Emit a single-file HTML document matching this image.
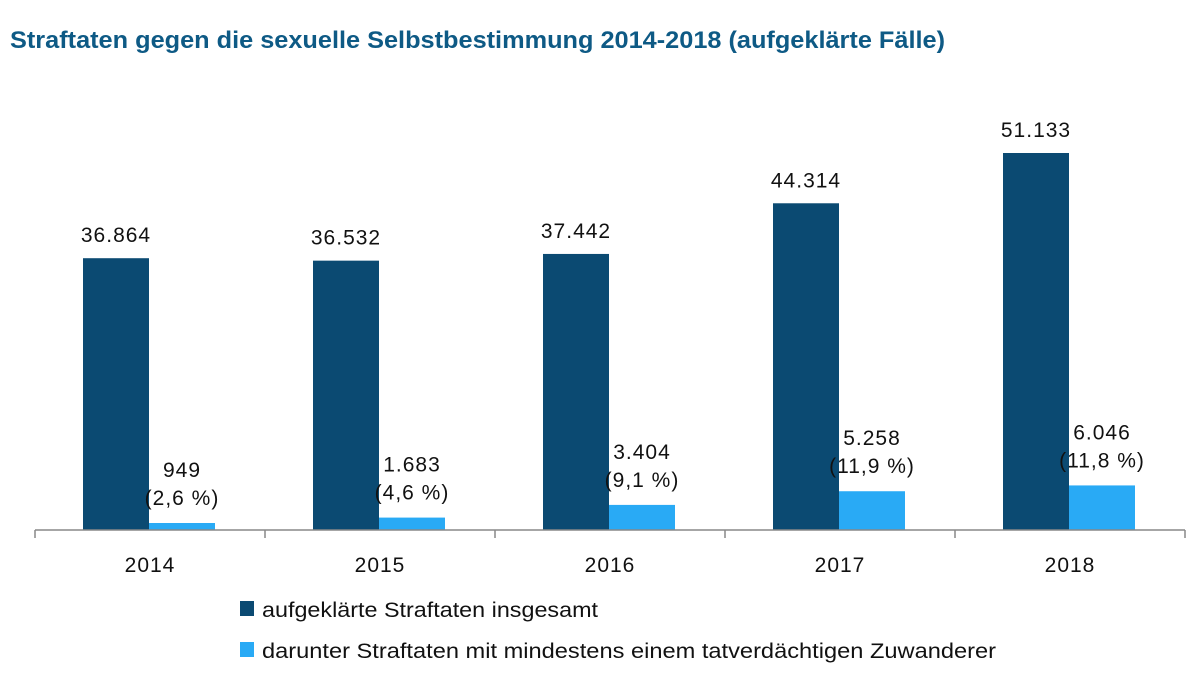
<!DOCTYPE html>
<html><head><meta charset="utf-8"><style>
body{margin:0;background:#fff;width:1200px;height:691px;overflow:hidden;font-family:"Liberation Sans",sans-serif}
</style></head><body>
<svg width="1200" height="691">
<text x="10" y="48" font-size="24" font-weight="bold" fill="#0e5a85" textLength="935" lengthAdjust="spacingAndGlyphs">Straftaten gegen die sexuelle Selbstbestimmung 2014-2018 (aufgeklärte Fälle)</text>
<g id="plot"></g>
<g>
<rect x="240" y="601" width="14" height="15" fill="#0b4a72"/>
<text x="262" y="617" font-size="21" fill="#111" textLength="336" lengthAdjust="spacingAndGlyphs">aufgeklärte Straftaten insgesamt</text>
<rect x="240" y="642" width="14" height="15" fill="#29aaf5"/>
<text x="262" y="658" font-size="21" fill="#111" textLength="734" lengthAdjust="spacingAndGlyphs">darunter Straftaten mit mindestens einem tatverdächtigen Zuwanderer</text>
</g>
</svg>
<script>
const years=["2014","2015","2016","2017","2018"];
const totals=[36864,36532,37442,44314,51133];
const immigrant=[949,1683,3404,5258,6046];
const totalLabels=["36.864","36.532","37.442","44.314","51.133"];
const immLabels=["949","1.683","3.404","5.258","6.046"];
const pctLabels=["(2,6 %)","(4,6 %)","(9,1 %)","(11,9 %)","(11,8 %)"];
const NS="http://www.w3.org/2000/svg";
const g=document.getElementById('plot');
const base=530, k=377/51133, x0=35, step=230;
const y=v=>base-v*k;
function el(t,a,txt){const e=document.createElementNS(NS,t);for(const n in a)e.setAttribute(n,a[n]);if(txt!=null)e.textContent=txt;g.appendChild(e);return e;}
const ts={'font-size':21,'text-anchor':'middle',fill:'#111','letter-spacing':'1'};
years.forEach((yr,i)=>{
  const gx=x0+i*step, bx=gx+48;
  const b1=el('rect',{x:bx,y:y(totals[i]),width:66,height:base-y(totals[i]),fill:'#0b4a72'});
  
  
  const b2=el('rect',{x:bx+66,y:y(immigrant[i]),width:66,height:base-y(immigrant[i]),fill:'#29aaf5'});
  
  
  const t1=el('text',Object.assign({x:bx+33,y:y(totals[i])-16},ts),totalLabels[i]);
  
  
  const t2=el('text',Object.assign({x:bx+99,y:y(immigrant[i])-46},ts),immLabels[i]);
  
  
  const t3=el('text',Object.assign({x:bx+99,y:y(immigrant[i])-18},ts),pctLabels[i]);
  
  
  const xl=el('text',Object.assign({x:gx+115,y:572},ts),yr);
  
  
});
const ax=el('line',{x1:x0,y1:base,x2:x0+5*step,y2:base,stroke:'#888','stroke-width':1.5});


for(let i=0;i<=5;i++){
  const t=el('line',{x1:x0+i*step,y1:base,x2:x0+i*step,y2:base+8,stroke:'#888','stroke-width':1.5});
  
  
}
</script>
</body></html>
